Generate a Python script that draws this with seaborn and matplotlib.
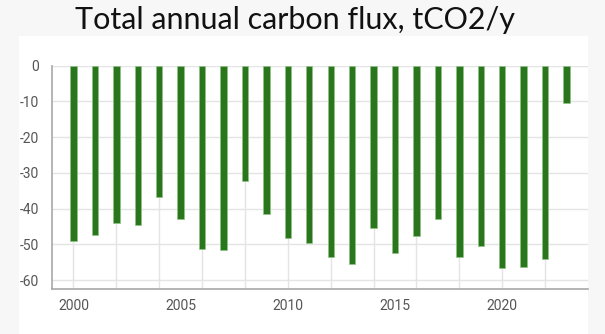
import matplotlib
matplotlib.use("Agg")
import matplotlib.pyplot as plt
from matplotlib.patches import Rectangle
import seaborn as sns
import pandas as pd

years = list(range(2000, 2024))
flux = [-49.2, -47.4, -44.1, -44.6, -36.7, -42.8, -51.3, -51.6, -32.4, -41.5,
        -48.3, -49.5, -53.5, -55.4, -45.4, -52.3, -47.6, -42.9, -53.5, -50.4,
        -56.7, -56.3, -54.0, -10.4]
y_ticks = [0, -10, -20, -30, -40, -50, -60]
x_labels = [2000, 2005, 2010, 2015, 2020]
title = "Total annual carbon flux, tCO2/y"

df = pd.DataFrame({"year": years, "flux": flux})

sns.set_theme(style="white")
plt.rcParams["font.family"] = ["Roboto", "DejaVu Sans"]

fig = plt.figure(figsize=(6.05, 3.34), dpi=100)
fig.patch.set_facecolor("#f7f7f7")
W, H = 605, 334
fig.patches.append(Rectangle((19 / W, 0), (588 - 19) / W, (334 - 36) / H,
                             transform=fig.transFigure, facecolor="white",
                             edgecolor="none", zorder=-5))

ax = fig.add_axes([52 / W, (H - 289) / H, (588 - 52) / W, (289 - 65.7) / H])
ax.set_facecolor("white")

sns.barplot(data=df, x="year", y="flux", native_scale=True, width=0.3,
            color="#2a761c", saturation=1, edgecolor="#8fc486", linewidth=0.5,
            ax=ax, zorder=3)

ax.set_xlim(1999, 2024)
ax.set_ylim(-62.5, 0)

# vertical grid every two years, labels every five
for yr in range(2000, 2024, 2):
    ax.axvline(yr, color="#e4e4e4", lw=1, zorder=1)
for v in y_ticks:
    ax.axhline(v, color="#e4e4e4", lw=1, zorder=1)

ax.set_xticks(x_labels)
ax.set_xticklabels([str(x) for x in x_labels])
ax.set_yticks(y_ticks)
ax.set_yticklabels([str(v) for v in y_ticks])
ax.tick_params(axis="both", length=0, labelsize=10, colors="#555555")
ax.tick_params(axis="x", pad=7)
ax.tick_params(axis="y", pad=9)
ax.set_xlabel("")
ax.set_ylabel("")

for s in ["top", "right"]:
    ax.spines[s].set_visible(False)
for s in ["left", "bottom"]:
    ax.spines[s].set_color("#a8a8a8")
    ax.spines[s].set_linewidth(1.2)

fig.text(295 / W, 1 - 20 / H, title, ha="center", va="center",
         fontsize=22, color="#111111", family=["Lato", "DejaVu Sans"])

fig.savefig("out.png", dpi=100, facecolor=fig.get_facecolor())
